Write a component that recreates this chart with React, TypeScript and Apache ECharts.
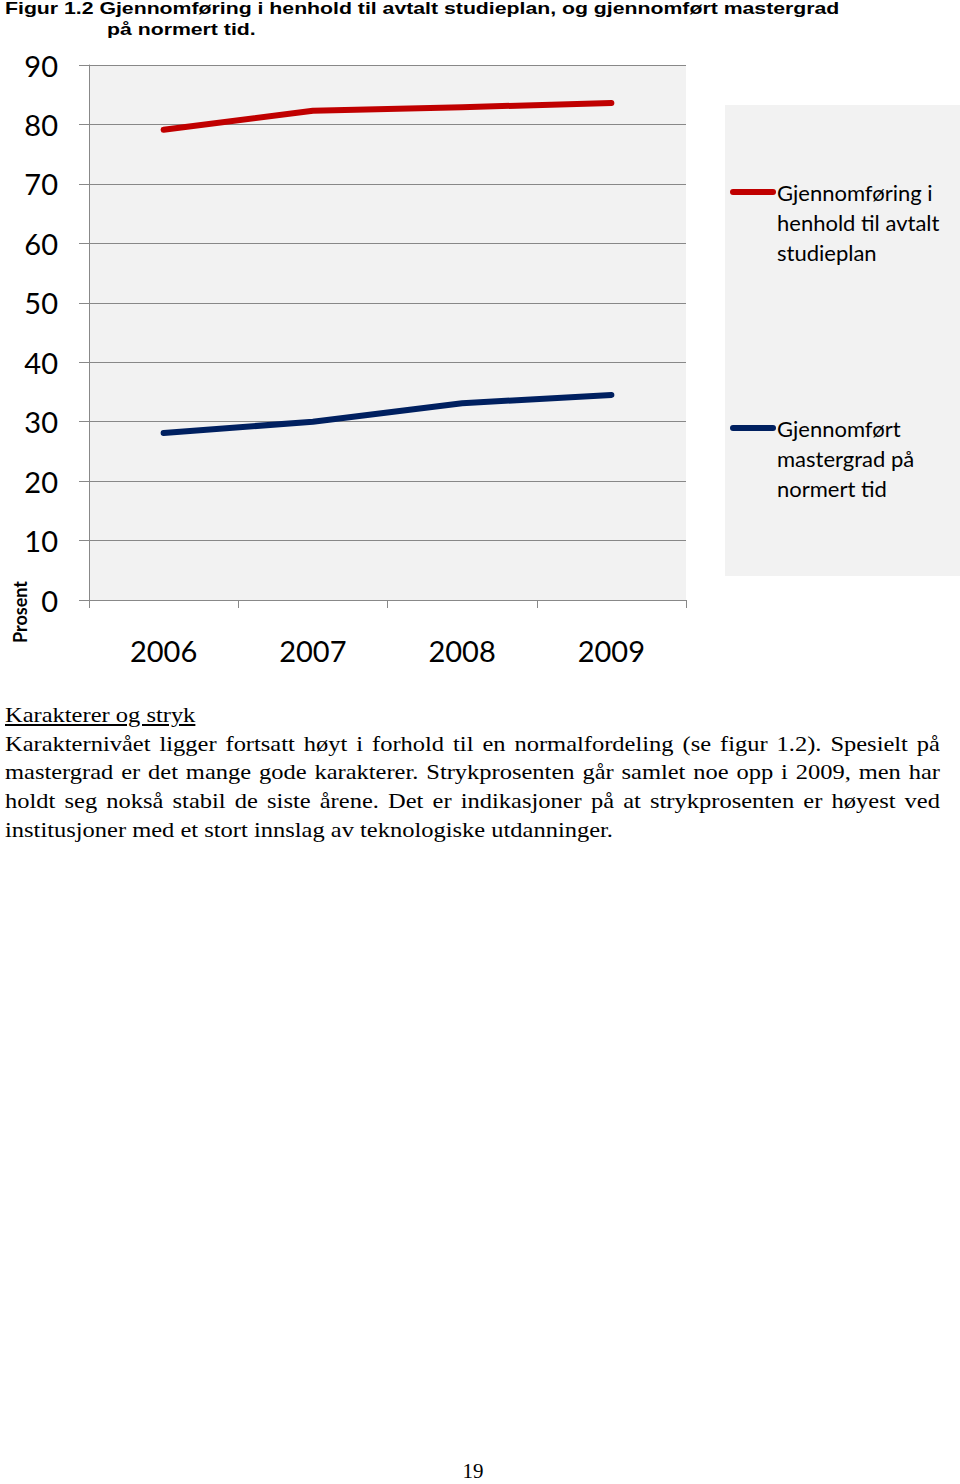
import React, { useEffect, useRef } from "react";
import * as echarts from "echarts";

const years = ["2006", "2007", "2008", "2009"];
const studieplan = [79.1, 82.3, 82.9, 83.6];
const mastergrad = [28.1, 30.0, 33.1, 34.5];
const yTicks = { min: 0, max: 90, interval: 10 };

const titleLine1 = "Figur 1.2 Gjennomføring i henhold til avtalt studieplan, og gjennomført mastergrad";
const titleLine2 = "på normert tid.";
const seriesNames = ["Gjennomføring i henhold til avtalt studieplan", "Gjennomført mastergrad på normert tid"];
const legendLines = [
  ["Gjennomføring i", "henhold til avtalt", "studieplan"],
  ["Gjennomført", "mastergrad på", "normert tid"],
];
const colors = ["#c00000", "#002060"];
const heading = "Karakterer og stryk";
const paragraphLines = [
  "Karakternivået ligger fortsatt høyt i forhold til en normalfordeling (se figur 1.2). Spesielt på",
  "mastergrad er det mange gode karakterer. Strykprosenten går samlet noe opp i 2009, men har",
  "holdt seg nokså stabil de siste årene. Det er indikasjoner på at strykprosenten er høyest ved",
  "institusjoner med et stort innslag av teknologiske utdanninger.",
];
const pageNumber = "19";

export default function App() {
  const ref = useRef<HTMLDivElement>(null);
  useEffect(() => {
    document.body.style.margin = "0";
    const chart = echarts.init(ref.current!, null, { renderer: "svg" });
    const font = "Lato, 'Open Sans', sans-serif";
    const titleFont = {
      fontFamily: "'Liberation Sans', Arial, sans-serif",
      fontWeight: "bold",
      fontSize: 17,
      fill: "#000",
      textAlign: "left",
      textVerticalAlign: "top",
    };
    const legendY = [192, 428];
    chart.setOption({
      animation: false,
      grid: {
        left: 89,
        right: 274,
        top: 65,
        bottom: 100,
        show: true,
        backgroundColor: "#f2f2f2",
        borderWidth: 0,
      },
      xAxis: {
        type: "category",
        data: years,
        boundaryGap: true,
        axisLine: { show: true, lineStyle: { color: "#888", width: 1 } },
        axisTick: { show: true, length: 8, lineStyle: { color: "#888" } },
        axisLabel: { fontFamily: font, fontSize: 29, color: "#000", margin: 36 },
        splitLine: { show: false },
      },
      yAxis: {
        type: "value",
        min: yTicks.min,
        max: yTicks.max,
        interval: yTicks.interval,
        axisLine: { show: true, lineStyle: { color: "#888", width: 1 } },
        axisTick: { show: true, length: 10, lineStyle: { color: "#888" } },
        axisLabel: { fontFamily: font, fontSize: 29, color: "#000", margin: 31 },
        splitLine: { show: true, lineStyle: { color: "#888", width: 1 } },
      },
      series: [
        {
          name: seriesNames[0],
          type: "line",
          data: studieplan,
          symbol: "none",
          lineStyle: { color: colors[0], width: 6, cap: "round", join: "round" },
        },
        {
          name: seriesNames[1],
          type: "line",
          data: mastergrad,
          symbol: "none",
          lineStyle: { color: colors[1], width: 6, cap: "round", join: "round" },
        },
      ],
      graphic: [
        {
          type: "text",
          x: 5,
          y: 0,
          scaleX: 1.25,
          style: { ...titleFont, text: titleLine1 },
        },
        {
          type: "text",
          x: 107,
          y: 21,
          scaleX: 1.25,
          style: { ...titleFont, text: titleLine2 },
        },
        {
          type: "text",
          x: 20,
          y: 612,
          rotation: Math.PI / 2,
          style: {
            text: "Prosent",
            fontFamily: font,
            fontWeight: "bold",
            fontSize: 18,
            fill: "#000",
            textAlign: "center",
            textVerticalAlign: "middle",
          },
        },
        {
          type: "rect",
          shape: { x: 725, y: 105, width: 235, height: 471 },
          style: { fill: "#f2f2f2" },
        },
        ...legendLines.flatMap((lines, i) => [
          {
            type: "line",
            shape: { x1: 733, y1: legendY[i], x2: 773, y2: legendY[i] },
            style: { stroke: colors[i], lineWidth: 6, lineCap: "round" },
          },
          {
            type: "text",
            x: 777,
            y: legendY[i] - 15,
            style: {
              text: lines.join("\n"),
              fontFamily: font,
              fontSize: 22,
              lineHeight: 30,
              fill: "#000",
              textAlign: "left",
              textVerticalAlign: "top",
            },
          },
        ]),
      ],
    });
    return () => chart.dispose();
  }, []);

  const serif = "'Liberation Serif', 'Times New Roman', serif";
  const scale = 1.166;
  return (
    <div style={{ position: "relative", width: 960, height: 1484, background: "#fff" }}>
      <div ref={ref} style={{ position: "absolute", left: 0, top: 0, width: 960, height: 700 }} />
      <div
        style={{
          position: "absolute",
          left: 5,
          top: 701,
          width: 935 / scale,
          fontFamily: serif,
          fontSize: 21,
          lineHeight: "28.7px",
          color: "#000",
          transform: `scaleX(${scale})`,
          transformOrigin: "0 0",
          whiteSpace: "nowrap",
        }}
      >
        <div style={{ textDecoration: "underline" }}>{heading}</div>
        {paragraphLines.map((line, i) => (
          <div
            key={i}
            style={{
              textAlign: "justify",
              textAlignLast: i < paragraphLines.length - 1 ? "justify" : "left",
              whiteSpace: "normal",
            }}
          >
            {line}
          </div>
        ))}
      </div>
      <div
        style={{
          position: "absolute",
          left: 0,
          top: 1459,
          width: 946,
          textAlign: "center",
          fontFamily: serif,
          fontSize: 21,
          color: "#000",
        }}
      >
        {pageNumber}
      </div>
    </div>
  );
}
